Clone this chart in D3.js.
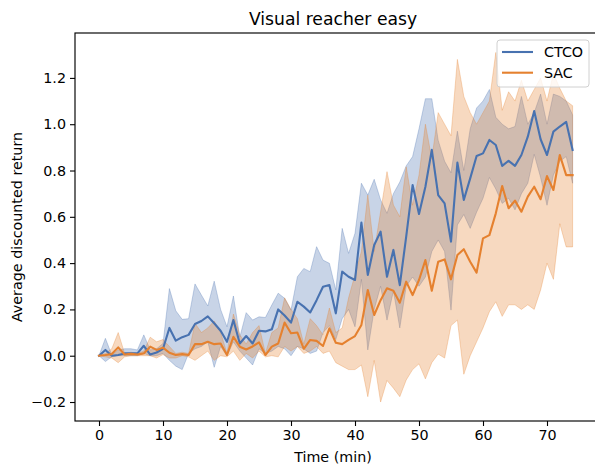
<!DOCTYPE html>
<html>
<head>
<meta charset="utf-8">
<script src="https://cdn.jsdelivr.net/npm/d3@7"></script>
<style>
body{margin:0;background:#fff;}
svg text{font-family:"DejaVu Sans",sans-serif;fill:#000;}
</style>
</head>
<body>
<svg id="chart" width="595" height="465"></svg>
<script>
// minutes 0..74
var times = d3.range(0, 75);

var ctcoMean = [0,0.025,0,0.003,0.01,0.01,0.01,0.043,0.005,0.014,0.03,0.12,0.065,0.08,0.09,0.137,0.15,0.17,0.14,0.108,
    0.06,0.154,0.053,0.085,0.053,0.108,0.105,0.114,0.2,0.174,0.143,0.233,0.212,0.187,0.24,0.298,0.305,0.183,0.363,0.341,
    0.327,0.575,0.349,0.478,0.536,0.341,0.457,0.305,0.514,0.737,0.612,0.73,0.889,0.694,0.658,0.493,0.834,0.673,0.766,0.863,
    0.874,0.932,0.91,0.82,0.842,0.82,0.867,0.946,1.057,0.935,0.867,0.968,0.99,1.01,0.889];
var ctcoHigh = [0,0.075,0.003,0.025,0.03,0.03,0.025,0.09,0.025,0.03,0.053,0.29,0.194,0.157,0.16,0.31,0.262,0.215,0.322,0.2,
    0.125,0.258,0.08,0.186,0.154,0.168,0.165,0.219,0.27,0.248,0.197,0.341,0.377,0.363,0.471,0.413,0.399,0.284,0.55,0.442,
    0.529,0.745,0.694,0.762,0.673,0.615,0.7,0.75,0.82,0.86,0.98,1.11,1.11,0.93,0.84,0.79,0.97,0.8,0.98,1.07,
    1.1,1.15,1.03,1.0,0.98,0.99,1.12,1.0,1.05,1.13,1.0,1.13,1.12,1.1,1.04];
var ctcoLow = [0,-0.025,-0.005,0,0,0,0,0.01,0,0,0.01,-0.02,-0.045,-0.06,0.01,0.03,0.04,0.06,-0.05,0.04,
    0,0.06,0.02,-0.01,-0.04,0.03,0.01,0.02,0.04,0.03,0.0,0.04,0.03,0.01,0.02,0.1,0.13,0.07,0.16,0.2,
    0.125,0.33,0.025,0.2,0.3,0.154,0.28,0.12,0.3,0.34,0.3,0.34,0.45,0.5,0.45,0.197,0.565,0.61,0.55,0.62,
    0.68,0.77,0.72,0.658,0.68,0.63,0.7,0.745,0.87,0.77,0.65,0.78,0.84,0.86,0.745];

var sacMean = [0,0.003,0.007,0.036,0.005,0.008,0.005,0.01,0.039,0.025,0.035,0.013,0.003,0.007,0.003,0.05,0.05,0.06,0.05,0.053,
    0.003,0.082,0.039,0.027,0.04,0.058,0.003,0.039,0.053,0.143,0.097,0.1,0.03,0.068,0.064,0.042,0.118,0.056,0.05,0.068,
    0.085,0.133,0.284,0.176,0.24,0.291,0.281,0.229,0.32,0.262,0.327,0.413,0.281,0.406,0.416,0.33,0.435,0.46,0.406,0.359,
    0.507,0.521,0.615,0.733,0.637,0.67,0.622,0.687,0.73,0.676,0.776,0.716,0.867,0.78,0.78];
var sacHigh = [0,0.01,0.03,0.1,0.01,0.015,0.01,0.02,0.08,0.06,0.07,0.04,0.01,0.015,0.01,0.14,0.1,0.12,0.15,0.1,
    0.01,0.18,0.09,0.05,0.1,0.13,0.01,0.1,0.12,0.25,0.2,0.16,0.05,0.16,0.13,0.09,0.206,0.1,0.12,0.25,
    0.35,0.45,0.694,0.45,0.622,0.795,0.651,0.6,0.816,0.65,0.78,1.0,0.85,1.05,1.0,0.95,1.28,1.12,1.05,1.0,
    1.05,1.1,1.31,1.06,1.14,1.1,1.19,1.1,1.15,1.2,1.1,1.22,1.155,1.1,1.08];
var sacLow = [0,-0.005,-0.01,-0.03,-0.005,0,0,0,0,-0.01,0.005,-0.01,-0.01,0,-0.005,-0.02,0,0.02,-0.02,0,
    -0.005,0.02,-0.02,0.01,-0.01,0.02,-0.005,0,-0.005,0.04,0.02,0.04,0.01,0.02,0.04,0.01,0.02,-0.03,-0.045,-0.06,
    -0.06,-0.04,-0.177,-0.02,-0.2,-0.107,-0.14,-0.177,-0.105,-0.06,-0.035,-0.1,-0.03,0.007,-0.01,0.13,0.154,-0.08,0,0.06,
    0.12,0.19,0.233,0.17,0.22,0.22,0.2,0.22,0.2,0.284,0.4,0.33,0.57,0.47,0.47];

var xTicks = [0,10,20,30,40,50,60,70];
var yTicks = [-0.2,0,0.2,0.4,0.6,0.8,1.0,1.2];
var seriesNames = ["CTCO","SAC"];
var seriesColors = ["#4872b0","#e5812f"];

function drawChart(){
    var svg = d3.select("#chart");
    var mLeft = 75, mRight = 596.6, mTop = 33, mBottom = 421;

    var x = d3.scaleLinear().domain([-3.75, 77.75]).range([mLeft, mRight]);
    var y = d3.scaleLinear().domain([-0.282, 1.394]).range([mBottom, mTop]);

    var series = [
        {name:seriesNames[0], color:seriesColors[0], mean:ctcoMean, hi:ctcoHigh, lo:ctcoLow},
        {name:seriesNames[1], color:seriesColors[1], mean:sacMean, hi:sacHigh, lo:sacLow}
    ];

    var area = d3.area()
        .x(function(d){ return x(d.t); })
        .y0(function(d){ return y(d.lo); })
        .y1(function(d){ return y(d.hi); });
    var line = d3.line()
        .x(function(d){ return x(d.t); })
        .y(function(d){ return y(d.m); });

    var plot = svg.append("g");

    series.forEach(function(s){
        var pts = times.map(function(t, i){ return {t:t, lo:s.lo[i], hi:s.hi[i]}; });
        plot.append("path")
            .attr("d", area(pts))
            .attr("fill", s.color)
            .attr("fill-opacity", 0.3)
            .attr("stroke", s.color)
            .attr("stroke-opacity", 0.3)
            .attr("stroke-width", 1);
    });
    series.forEach(function(s){
        var pts = times.map(function(t, i){ return {t:t, m:s.mean[i]}; });
        plot.append("path")
            .attr("d", line(pts))
            .attr("fill", "none")
            .attr("stroke", s.color)
            .attr("stroke-width", 2.1)
            .attr("stroke-linejoin", "round")
            .attr("stroke-linecap", "square");
    });

    // axes
    var xAxis = d3.axisBottom(x).tickValues(xTicks).tickSize(5).tickPadding(4).tickFormat(d3.format("d"));
    var yAxis = d3.axisLeft(y).tickValues(yTicks).tickSize(5).tickPadding(4)
        .tickFormat(function(d){ return d3.format(".1f")(d).replace("-", "\u2212"); });

    var gx = svg.append("g").attr("transform", "translate(0," + mBottom + ")").call(xAxis);
    var gy = svg.append("g").attr("transform", "translate(" + mLeft + ",0)").call(yAxis);
    [gx, gy].forEach(function(g){
        g.select(".domain").remove();
        g.selectAll(".tick line").attr("stroke", "#000").attr("stroke-width", 1.1);
        g.selectAll(".tick text").attr("font-size", "14.3px").attr("font-family", "DejaVu Sans").attr("fill", "#000");
    });

    // spines
    svg.append("rect")
        .attr("x", mLeft).attr("y", mTop)
        .attr("width", mRight - mLeft).attr("height", mBottom - mTop)
        .attr("fill", "none").attr("stroke", "#000").attr("stroke-width", 1.15);

    svg.append("text").attr("x", 333).attr("y", 25)
        .attr("text-anchor", "middle").attr("font-size", "17.2px").text("Visual reacher easy");
    svg.append("text").attr("x", 333).attr("y", 462)
        .attr("text-anchor", "middle").attr("font-size", "14.3px").text("Time (min)");
    svg.append("text").attr("transform", "translate(22," + ((mTop + mBottom) / 2) + ") rotate(-90)")
        .attr("text-anchor", "middle").attr("font-size", "14.3px").text("Average discounted return");

    // legend
    var lg = svg.append("g").attr("transform", "translate(497,40)");
    lg.append("rect").attr("width", 92).attr("height", 47).attr("rx", 3)
        .attr("fill", "#fff").attr("fill-opacity", 0.8).attr("stroke", "#d0d0d0").attr("stroke-width", 1);
    series.forEach(function(s, i){
        var yy = 12 + i * 20.7;
        lg.append("line").attr("x1", 5).attr("x2", 36).attr("y1", yy).attr("y2", yy)
            .attr("stroke", s.color).attr("stroke-width", 2.1);
        lg.append("text").attr("x", 47).attr("y", yy + 5.2).attr("font-size", "14.3px").text(s.name);
    });
}

drawChart();
</script>
</body>
</html>
